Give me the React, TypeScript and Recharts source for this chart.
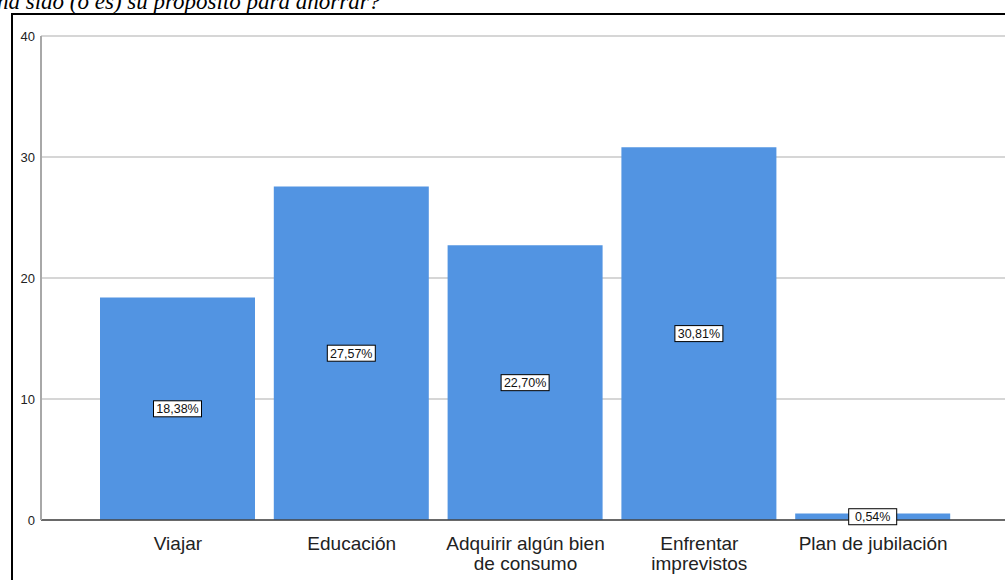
import React from 'react';
import { BarChart, Bar, XAxis, YAxis, CartesianGrid, LabelList } from 'recharts';

const categories = ['Viajar', 'Educación', 'Adquirir algún bien\nde consumo', 'Enfrentar\nimprevistos', 'Plan de jubilación'];
const percentages = [18.38, 27.57, 22.70, 30.81, 0.54];
const yTicks = [0, 10, 20, 30, 40];

const data = categories.map((name, i) => ({ name, value: percentages[i] }));

const fmt = (v: number) => v.toFixed(2).replace('.', ',') + '%';

const CategoryTick = (props: any) => {
  const { x, y, payload } = props;
  const lines = String(payload.value).split('\n');
  return (
    <g transform={`translate(${x},${y})`}>
      {lines.map((line, i) => (
        <text
          key={i}
          x={0}
          y={22 + i * 20}
          textAnchor="middle"
          fontSize={19}
          fontFamily="Liberation Sans, Arial, sans-serif"
          fill="#222"
        >
          {line}
        </text>
      ))}
    </g>
  );
};

const ValueLabel = (props: any) => {
  const { x, y, width, height, value } = props;
  const cx = x + width / 2;
  const cy = y + height / 2;
  const w = 48;
  const h = 16;
  return (
    <g>
      <rect x={cx - w / 2} y={cy - h / 2} width={w} height={h} fill="#fff" stroke="#000" strokeWidth={1} />
      <text
        x={cx}
        y={cy + 4.5}
        textAnchor="middle"
        fontSize={12.5}
        fontFamily="Liberation Sans, Arial, sans-serif"
        fill="#111"
      >
        {fmt(value)}
      </text>
    </g>
  );
};

export default function App() {
  return (
    <div style={{ position: 'fixed', left: 0, top: 0, width: 1005, height: 580, overflow: 'hidden', background: '#fff' }}>
      <div
        style={{
          position: 'absolute',
          left: -3,
          top: -11,
          fontFamily: 'Liberation Serif, Times New Roman, serif',
          fontStyle: 'italic',
          fontSize: 23,
          lineHeight: '26px',
          whiteSpace: 'nowrap',
          color: '#000',
        }}
      >
        ha sido (o es) su propósito para ahorrar?
      </div>
      <div
        style={{
          position: 'absolute',
          left: 11,
          top: 13,
          width: 1020,
          height: 600,
          borderLeft: '2px solid #000',
          borderTop: '2px solid #000',
          background: 'transparent',
        }}
      />
      <div style={{ position: 'absolute', left: 0, top: 0 }}>
        <BarChart width={1010} height={580} data={data} margin={{ top: 36, right: 0, left: 0, bottom: 0 }}>
          <CartesianGrid vertical={false} stroke="#d6d6d6" strokeWidth={2} />
          <XAxis
            dataKey="name"
            interval={0}
            height={60}
            padding={{ left: 50, right: 50 }}
            tickLine={false}
            axisLine={{ stroke: '#444', strokeWidth: 1.5 }}
            tick={<CategoryTick />}
          />
          <YAxis
            domain={[0, 40]}
            ticks={yTicks}
            width={41}
            tickLine={false}
            tickSize={0}
            tickMargin={6}
            axisLine={{ stroke: '#a8a8a8', strokeWidth: 2 }}
            tick={{ fontSize: 13, fill: '#222', fontFamily: 'Liberation Sans, Arial, sans-serif' }}
          />
          <Bar dataKey="value" fill="#5294e2" barSize={155} isAnimationActive={false}>
            <LabelList dataKey="value" content={<ValueLabel />} />
          </Bar>
        </BarChart>
      </div>
    </div>
  );
}
